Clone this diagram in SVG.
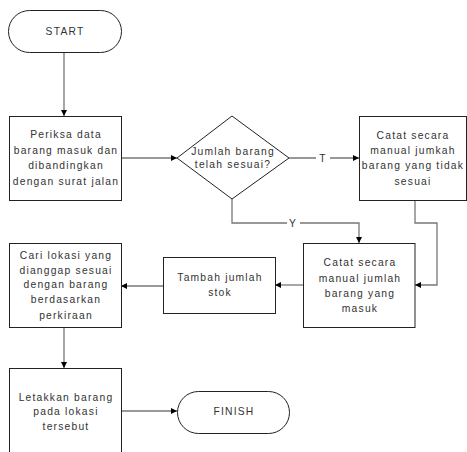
<svg xmlns="http://www.w3.org/2000/svg" width="467" height="452" viewBox="0 0 467 452">
<style>
.shape{fill:#fff;stroke:#222;stroke-width:1}
.conn{fill:none;stroke:#777;stroke-width:1.3}
text{font-family:"Liberation Sans",Arial,sans-serif;font-size:10.3px;fill:#333;text-anchor:middle;letter-spacing:1.2px}
</style>
<defs>
<marker id="arr" viewBox="0 0 10 10" refX="10" refY="5" markerWidth="6" markerHeight="6" markerUnits="userSpaceOnUse" orient="auto"><path d="M0,0 L10,5 L0,10 z" fill="#000"/></marker>
</defs>
<rect width="467" height="452" fill="#fff"/>
<g id="connectors">
<path class="conn" d="M64,52 V116" marker-end="url(#arr)"/>
<path class="conn" d="M121,158 H177" marker-end="url(#arr)"/>
<path class="conn" d="M289,158 H316 M330,158 H359" marker-end="url(#arr)"/>
<path class="conn" d="M232,199 V223 H287 M300,223 H359 V243" marker-end="url(#arr)"/>
<path class="conn" d="M415,200 V223 H437 V285 H415" marker-end="url(#arr)"/>
<path class="conn" d="M303,285 H275" marker-end="url(#arr)"/>
<path class="conn" d="M163,286 H121" marker-end="url(#arr)"/>
<path class="conn" d="M64,327 V368" marker-end="url(#arr)"/>
<path class="conn" d="M121,411 H177" marker-end="url(#arr)"/>
<text x="323" y="162">T</text>
<text x="293" y="227">Y</text>
</g>
<g id="start">
<rect class="shape" x="8.5" y="10.5" width="113" height="42" rx="21"/>
<text x="65" y="35">START</text>
</g>
<g id="periksa">
<rect class="shape" x="9.5" y="116.5" width="112" height="84"/>
<text x="66" y="138">Periksa data</text>
<text x="66" y="153.5">barang masuk dan</text>
<text x="66" y="169">dibandingkan</text>
<text x="66" y="184.5">dengan surat jalan</text>
</g>
<g id="decision">
<polygon class="shape" points="232,116 289,158 232,199 177,158"/>
<text x="233" y="155">Jumlah barang</text>
<text x="233" y="168">telah sesuai?</text>
</g>
<g id="catat-tidak">
<rect class="shape" x="359.5" y="116.5" width="107" height="84"/>
<text x="413" y="139">Catat secara</text>
<text x="413" y="154">manual jumkah</text>
<text x="413" y="169">barang yang tidak</text>
<text x="413" y="185">sesuai</text>
</g>
<g id="catat-masuk">
<rect class="shape" x="303.5" y="243.5" width="111.5" height="84"/>
<text x="360" y="266">Catat secara</text>
<text x="360" y="282">manual jumlah</text>
<text x="360" y="297">barang yang</text>
<text x="360" y="312">masuk</text>
</g>
<g id="tambah">
<rect class="shape" x="163.5" y="257.5" width="112" height="56"/>
<text x="220" y="281">Tambah jumlah</text>
<text x="220" y="296">stok</text>
</g>
<g id="cari">
<rect class="shape" x="9.5" y="243.5" width="112" height="84"/>
<text x="66" y="259">Cari lokasi yang</text>
<text x="66" y="274">dianggap sesuai</text>
<text x="66" y="288">dengan barang</text>
<text x="66" y="303">berdasarkan</text>
<text x="66" y="319">perkiraan</text>
</g>
<g id="letakkan">
<rect class="shape" x="9.5" y="368.5" width="112" height="84"/>
<text x="66" y="401">Letakkan barang</text>
<text x="66" y="415">pada lokasi</text>
<text x="66" y="430">tersebut</text>
</g>
<g id="finish">
<rect class="shape" x="177.5" y="391.5" width="112" height="42" rx="21"/>
<text x="234" y="415">FINISH</text>
</g>
</svg>
